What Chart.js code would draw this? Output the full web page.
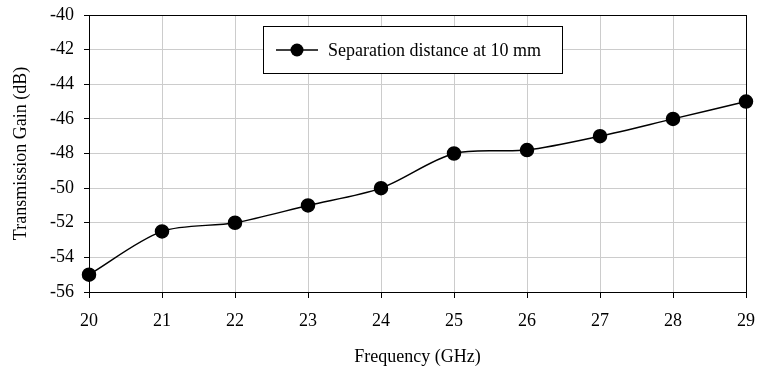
<!DOCTYPE html>
<html lang="en">
<head>
  <meta charset="UTF-8">
  <title>Transmission Gain vs Frequency</title>
  <!-- Chart.js -->
  <script src="https://cdn.jsdelivr.net/npm/chart.js"></script>
  <style>
    html, body { margin: 0; padding: 0; background: #fff; }
    #wrap { width: 758px; height: 374px; }
  </style>
</head>
<body>
  <div id="wrap"><canvas id="gainChart" width="758" height="374"></canvas></div>

  <script>
    const frequencies = [20, 21, 22, 23, 24, 25, 26, 27, 28, 29];
    const gains = [-55, -52.5, -52, -51, -50, -48, -47.8, -47, -46, -45];
    const seriesLabel = 'Separation distance at 10 mm';
    const xTitle = 'Frequency (GHz)';
    const yTitle = 'Transmission Gain (dB)';

    const serif = "'Liberation Serif', 'Times New Roman', serif";

    // frame round the plot plus the boxed legend inside it
    const framePlugin = {
      id: 'frame',
      afterDraw(chart) {
        const { ctx, chartArea: a } = chart;
        ctx.save();
        ctx.strokeStyle = '#000';
        ctx.lineWidth = 1;
        ctx.strokeRect(a.left + 0.5, a.top + 0.5, a.right - a.left, a.bottom - a.top);

        // legend
        const bx = 263.5, by = 26.5, bw = 299, bh = 47;
        ctx.fillStyle = '#fff';
        ctx.fillRect(bx, by, bw, bh);
        ctx.strokeRect(bx, by, bw, bh);
        const cy = by + bh / 2;
        ctx.lineWidth = 1.5;
        ctx.beginPath();
        ctx.moveTo(276, cy);
        ctx.lineTo(318, cy);
        ctx.stroke();
        ctx.fillStyle = '#000';
        ctx.beginPath();
        ctx.arc(297, cy, 6.5, 0, Math.PI * 2);
        ctx.fill();
        ctx.font = '18px ' + serif;
        ctx.textBaseline = 'middle';
        ctx.fillText(chart.data.datasets[0].label, 328, cy + 1);
        ctx.restore();
      }
    };

    const ctx = document.getElementById('gainChart').getContext('2d');
    new Chart(ctx, {
      type: 'line',
      data: {
        datasets: [{
          label: seriesLabel,
          data: frequencies.map((f, i) => ({ x: f, y: gains[i] })),
          borderColor: '#000',
          backgroundColor: '#000',
          borderWidth: 1.5,
          pointRadius: 6.5,
          pointHoverRadius: 6.5,
          tension: 0.3,
          clip: false,
          fill: false
        }]
      },
      options: {
        responsive: false,
        animation: false,
        layout: { padding: { left: 0, right: 12, top: 15, bottom: 0 } },
        plugins: {
          legend: { display: false },
          tooltip: { enabled: false }
        },
        scales: {
          x: {
            type: 'linear',
            min: 20,
            max: 29,
            ticks: { stepSize: 1, color: '#000', font: { family: serif, size: 18 }, padding: 12 },
            grid: { color: '#cccccc', tickColor: '#000', tickLength: 6 },
            border: { color: '#000' },
            title: { display: true, text: xTitle, color: '#000', font: { family: serif, size: 18 }, padding: { bottom: 6 } },
            afterFit(s) { s.height = 82; s.paddingLeft = 0; s.paddingRight = 0; }
          },
          y: {
            min: -56,
            max: -40,
            ticks: { stepSize: 2, color: '#000', font: { family: serif, size: 18 }, padding: 10 },
            grid: { color: '#cccccc', tickColor: '#000', tickLength: 5 },
            border: { color: '#000' },
            title: { display: true, text: yTitle, color: '#000', font: { family: serif, size: 18 }, padding: { top: 10 } },
            afterFit(s) { s.width = 89; s.paddingTop = 0; s.paddingBottom = 0; }
          }
        }
      },
      plugins: [framePlugin]
    });
  </script>
</body>
</html>
